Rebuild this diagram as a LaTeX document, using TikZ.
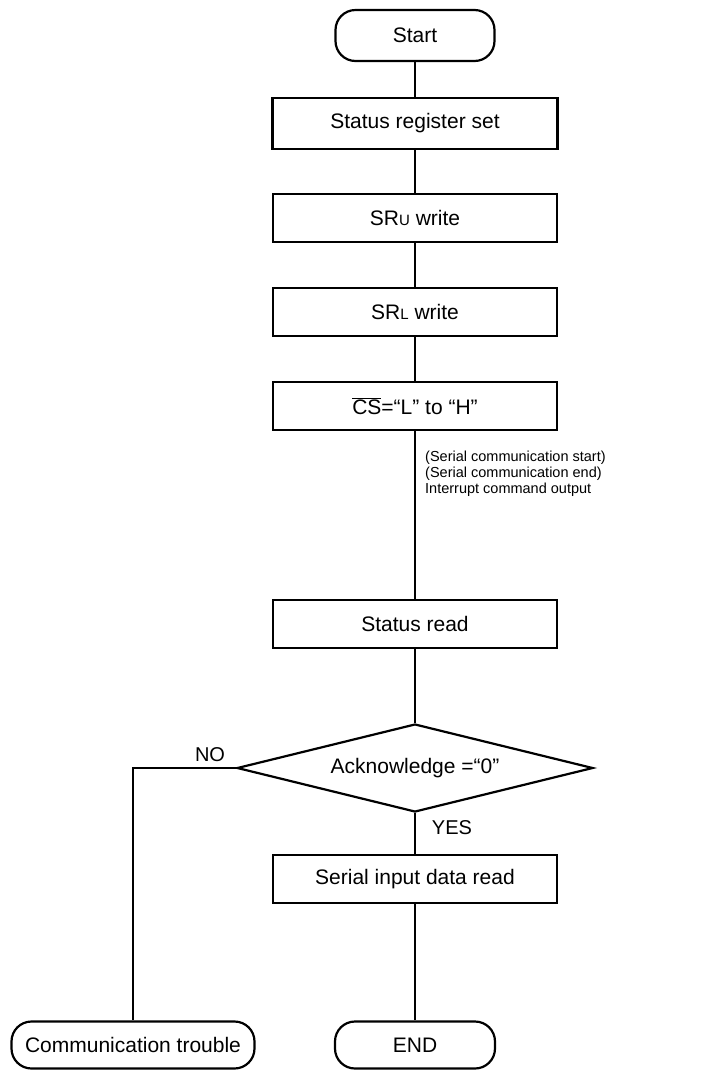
\documentclass[tikz,border=0pt]{standalone}
\usepackage{fontspec}
\setmainfont{Liberation Sans}
\usetikzlibrary{shapes.geometric}
\begin{document}
\begin{tikzpicture}[x=1pt,y=-1pt,
  procbox/.style={draw,line width=2.2pt,minimum width=284pt,minimum height=48pt,inner sep=0pt,font=\fontsize{21}{24}\selectfont},
  termbox/.style={draw,line width=2.2pt,rounded corners=20pt,minimum height=47pt,inner sep=0pt,font=\fontsize{21}{24}\selectfont},
  decbox/.style={draw,diamond,line width=2.2pt,aspect=4,minimum width=356pt,minimum height=88pt,inner sep=0pt,font=\fontsize{21}{24}\selectfont},
  conn/.style={line width=1.1pt},
  lbl/.style={inner sep=0pt,font=\fontsize{20}{24}\selectfont},
  note/.style={inner sep=0pt,align=left,font=\fontsize{14.5}{16}\selectfont}]
\useasboundingbox (0,0) rectangle (713,1072);
\fill[white] (0,0) rectangle (713,1072);
\node[termbox,minimum width=159pt,minimum height=51pt] (start) at (415,35.5) {Start};
\node[procbox,minimum width=285pt,minimum height=51pt] (srs) at (415,123.5) {Status register set};
\node[procbox] (sru) at (415,218) {SR{\fontsize{15}{18}\selectfont U} write};
\node[procbox] (srl) at (415,312) {SR{\fontsize{15}{18}\selectfont L} write};
\node[procbox] (cs) at (415,406) {$\overline{\hbox{CS}}$=“L” to “H”};
\node[procbox] (sr) at (415,624) {Status read};
\node[decbox] (ack) at (415,768) {Acknowledge =“0”};
\node[procbox] (sidr) at (415,879) {Serial input data read};
\node[termbox,minimum width=160pt] (endn) at (415,1045) {END};
\node[termbox,minimum width=243pt] (ct) at (133,1045) {Communication trouble};
\coordinate (nocorner) at (133,768);
\draw[conn] (start) -- (srs);
\draw[conn] (srs) -- (sru);
\draw[conn] (sru) -- (srl);
\draw[conn] (srl) -- (cs);
\draw[conn] (cs) -- (sr);
\draw[conn] (sr) -- (ack);
\draw[conn] (ack) -- (sidr);
\draw[conn] (sidr) -- (endn);
\draw[conn] (ack.west) -- (nocorner) -- (ct.north);
\node[note,anchor=west] (ann) at (425,474) {(Serial communication start)\\(Serial communication end)\\Interrupt command output};
\node[lbl] (no) at (210,755) {NO};
\node[lbl] (yes) at (452,828) {YES};
\end{tikzpicture}
\end{document}
